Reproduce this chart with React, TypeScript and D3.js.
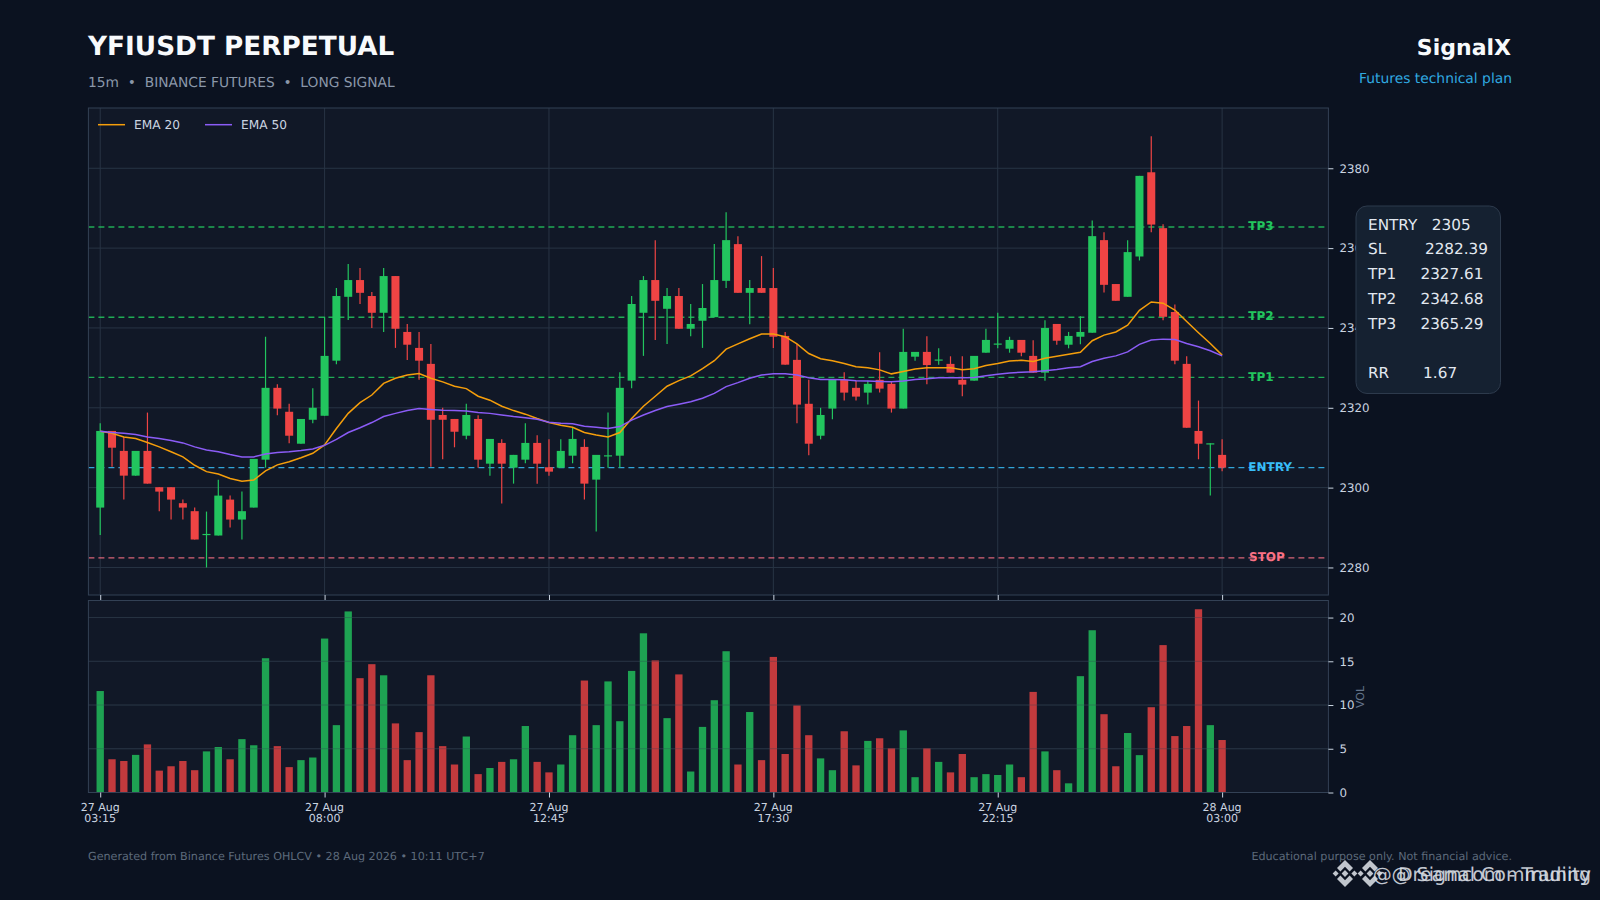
import { useEffect, useRef } from "react"
import * as d3 from "d3"

const opens = [2295,2314.2,2309.2,2303,2309.2,2300.1,2300.1,2296.1,2294.1,2288.1,2288,2297,2292,2295,2307,2325,2319,2311,2317,2318,2331.8,2347.8,2352,2348,2343.8,2353,2339,2335,2331,2318.2,2317.2,2313,2317.2,2306,2311.2,2305,2307,2311.2,2305.1,2305,2308,2310.2,2302,2307.9,2308,2326.8,2343.8,2352,2344.8,2348,2339.8,2341.8,2342.7,2351.8,2361,2348.8,2350,2350,2338,2332,2321,2313,2319.8,2327,2325,2323.8,2327,2326,2319.8,2332.8,2334,2331.9,2331,2327,2326.8,2333.8,2335.9,2334.8,2337,2333,2328.8,2341,2335.8,2337.8,2338.8,2362,2351,2347.8,2357.9,2379,2365,2344,2331,2314.2,2311,2308.2]
const highs = [2316.1,2314.2,2312.7,2309.2,2318.8,2300.1,2300.1,2297,2295,2294,2302,2298,2299,2307.2,2337.8,2325.9,2321,2317.2,2324.9,2342.8,2350,2356,2355,2349,2355,2353,2341,2339,2336,2320,2317.2,2321,2318.1,2312.2,2312.1,2308.2,2316.1,2313.1,2312.1,2312.1,2315.1,2312.1,2308.2,2318.8,2328.9,2348,2353,2362,2350,2350,2346,2351,2361,2369,2363,2352,2358,2355,2339,2336,2327,2320,2327,2328.9,2326.8,2326.8,2333.9,2326.5,2339.8,2334,2337.9,2334.9,2332.9,2332.9,2333,2339.8,2343.8,2337.8,2337,2336.9,2341.9,2341,2339,2342.9,2366.9,2364,2351,2362,2378.1,2388,2366,2345.9,2332.9,2321.8,2311.1,2312.1]
const lows = [2288.1,2305.2,2297,2303,2301,2294.1,2292,2292,2287,2280,2288,2290,2287,2295,2305,2318.1,2311.1,2311,2316.1,2318,2330.9,2342,2346,2340,2339,2335,2332,2327,2305.2,2307.1,2310.1,2312.1,2305,2303,2296,2301,2306.1,2301,2303,2305,2306.1,2297,2289,2305,2305,2324.9,2333,2337,2336,2339.8,2337.9,2335,2342.7,2350,2348.8,2340.9,2348.8,2335,2330.8,2316.1,2308.1,2312.1,2317.1,2321.8,2321.8,2320.8,2323.8,2318.8,2319.8,2331.8,2325.9,2330.8,2328.8,2322.9,2326.8,2333.8,2334.9,2333.8,2332.9,2328.8,2326.8,2335.8,2334.9,2335.9,2338.8,2348.9,2346.8,2347.8,2356.9,2364,2341.9,2330.9,2315,2307.1,2298,2304.1]
const closes = [2314.2,2310,2303,2309.2,2301,2299,2297,2295,2287,2288.4,2298,2292,2294.1,2307.2,2325,2319.8,2313,2317.2,2320,2333,2348,2352,2348.8,2343.8,2353,2339.8,2335.8,2331.8,2317,2317,2314,2318.2,2307,2312.2,2306,2308.2,2311.2,2306,2304,2309.2,2312.2,2301,2308.2,2308.1,2325,2346,2352,2346.8,2348,2339.8,2341,2345,2352,2362,2348.8,2350,2348.8,2337.8,2330.8,2320.8,2311,2318.2,2327,2323.8,2322.8,2326,2324.8,2319.8,2334,2334,2330.7,2332.1,2328.8,2325.8,2333,2337,2336.1,2337,2333.8,2328.8,2340,2336.8,2338,2339,2363,2350.8,2346.8,2359,2378.1,2365.9,2342.8,2331.8,2315,2311,2311.1,2305]
const volumes = [11.6,3.8,3.6,4.3,5.5,2.5,3.0,3.6,2.55,4.7,5.2,3.8,6.1,5.4,15.35,5.3,2.9,3.7,4.0,17.6,7.7,20.7,13.07,14.67,13.4,7.9,3.7,6.9,13.4,5.3,3.2,6.4,2.1,2.8,3.5,3.8,7.6,3.5,2.3,3.2,6.55,12.8,7.7,12.7,8.15,13.9,18.2,15.1,8.5,13.5,2.4,7.5,10.55,16.15,3.2,9.2,3.7,15.5,4.4,9.95,6.55,3.9,2.55,7.0,3.1,5.9,6.2,5.05,7.1,1.75,5.05,3.5,2.3,4.4,1.75,2.1,2.0,3.2,1.75,11.5,4.7,2.55,1.05,13.3,18.55,8.95,3.0,6.8,4.27,9.75,16.85,6.45,7.6,20.95,7.7,6.0]
const ema20 = [2314.1,2313.6,2312.7,2312.3,2311.3,2310.2,2309,2307.7,2305.6,2304,2303.4,2302.3,2301.6,2301.9,2304.2,2305.7,2306.5,2307.5,2308.6,2310.7,2314.8,2318.6,2321.3,2323.2,2326.1,2327.4,2328.2,2328.6,2327.4,2326.5,2325.4,2324.8,2322.9,2321.9,2320.4,2319.3,2318.4,2317.3,2316.3,2315.6,2315.1,2313.8,2313.2,2312.7,2313.8,2317.3,2320.4,2322.9,2325.4,2326.8,2328,2329.8,2331.8,2334.7,2336,2337.3,2338.5,2338.5,2337.8,2336,2333.6,2332.3,2331.8,2331.1,2330.3,2330,2329.5,2328.5,2329.1,2329.7,2330,2330,2330,2329.5,2329.8,2330.6,2331.1,2331.7,2331.9,2331.6,2332.4,2332.9,2333.4,2333.9,2336.8,2338.2,2339,2340.7,2344.4,2346.5,2346.2,2344.5,2341.6,2338.8,2336.1,2333.2]
const ema50 = [2314.1,2313.8,2313.6,2313.3,2312.7,2312.3,2311.8,2311.2,2310.2,2309.4,2309,2308.3,2307.7,2307.7,2308.4,2308.8,2309,2309.3,2309.7,2310.6,2312.1,2313.8,2315,2316.3,2317.8,2318.6,2319.3,2319.8,2319.6,2319.4,2319.3,2319.2,2318.8,2318.6,2318.2,2317.8,2317.5,2317.1,2316.4,2316.1,2316,2315.4,2315.1,2314.8,2315.3,2316.9,2318.2,2319.3,2320.3,2320.9,2321.5,2322.4,2323.6,2325.3,2326.3,2327.4,2328.2,2328.5,2328.5,2328.2,2327.5,2327.1,2327.1,2327,2326.8,2326.7,2326.6,2326.5,2326.7,2327.1,2327.3,2327.5,2327.5,2327.5,2327.6,2328,2328.4,2328.7,2328.9,2329,2329.3,2329.6,2330,2330.3,2331.6,2332.4,2333,2334,2335.9,2337,2337.2,2337.1,2336.1,2335.3,2334.3,2333]

const priceTicks = [2280, 2300, 2320, 2340, 2360, 2380]
const volTicks = [0, 5, 10, 15, 20]
const timeTicks = [0, 19, 38, 57, 76, 95]
const timeDates = ["27 Aug", "27 Aug", "27 Aug", "27 Aug", "27 Aug", "28 Aug"]
const timeHours = ["03:15", "08:00", "12:45", "17:30", "22:15", "03:00"]

const levelNames = ["TP3", "TP2", "TP1", "ENTRY", "STOP"]
const levelValues = [2365.29, 2342.68, 2327.61, 2305, 2282.39]
const levelColors = ["#22c55e", "#22c55e", "#22c55e", "#38bdf8", "#fb7185"]

const planLines = ["ENTRY   2305", "SL        2282.39", "TP1     2327.61", "TP2     2342.68", "TP3     2365.29", "", "RR       1.67"]

const BG = "#0b1220"
const PANEL = "#111827"
const GRID = "#283444"
const SPINE = "#334155"
const UP = "#22c55e"
const DOWN = "#ef4444"

export default function App() {
  const svgRef = useRef(null)

  useEffect(() => {
    const svg = d3.select(svgRef.current)
    svg.selectAll("*").remove()
    svg.attr("font-family", "DejaVu Sans").attr("text-rendering", "geometricPrecision")

    const left = 88.4
    const right = 1328.4
    const x = d3.scaleLinear().domain([-1, 104]).range([left, right])
    const y = d3.scaleLinear().domain([2273, 2395]).range([595.4, 108.4])
    const v = d3.scaleLinear().domain([0, 21.95]).range([792.5, 600.5])
    const step = x(1) - x(0)

    svg.append("rect").attr("width", 1600).attr("height", 900).attr("fill", BG)

    // plot backgrounds
    svg.append("rect").attr("x", left).attr("y", 108).attr("width", right - left).attr("height", 487).attr("fill", PANEL)
    svg.append("rect").attr("x", left).attr("y", 600.5).attr("width", right - left).attr("height", 192).attr("fill", PANEL)

    // grid
    svg.append("g").selectAll("line").data(priceTicks).enter().append("line")
      .attr("x1", left).attr("x2", right).attr("y1", (d) => y(d)).attr("y2", (d) => y(d))
      .attr("stroke", GRID).attr("stroke-width", 1)
    svg.append("g").selectAll("line").data(volTicks.slice(1)).enter().append("line")
      .attr("x1", left).attr("x2", right).attr("y1", (d) => v(d)).attr("y2", (d) => v(d))
      .attr("stroke", GRID).attr("stroke-width", 1)
    svg.append("g").selectAll("line").data(timeTicks).enter().append("line")
      .attr("x1", (d) => x(d)).attr("x2", (d) => x(d)).attr("y1", 108).attr("y2", 595)
      .attr("stroke", GRID).attr("stroke-width", 1)

    // level lines
    svg.append("g").selectAll("line").data(levelValues).enter().append("line")
      .attr("x1", left).attr("x2", right).attr("y1", (d) => y(d)).attr("y2", (d) => y(d))
      .attr("stroke", (_, i) => levelColors[i]).attr("stroke-width", 1.4)
      .attr("stroke-dasharray", "6 4").attr("opacity", 0.85)

    // candles
    const isUp = (i: number) => closes[i] >= opens[i]
    const idx = d3.range(opens.length)
    const candles = svg.append("g")
    candles.selectAll("line").data(idx).enter().append("line")
      .attr("x1", (i) => x(i)).attr("x2", (i) => x(i))
      .attr("y1", (i) => y(highs[i])).attr("y2", (i) => y(lows[i]))
      .attr("stroke", (i) => (isUp(i) ? UP : DOWN)).attr("stroke-width", 1.2)
    candles.selectAll("rect").data(idx).enter().append("rect")
      .attr("x", (i) => x(i) - step * 0.34).attr("width", step * 0.68)
      .attr("y", (i) => y(Math.max(opens[i], closes[i])))
      .attr("height", (i) => Math.max(1.2, Math.abs(y(opens[i]) - y(closes[i]))))
      .attr("fill", (i) => (isUp(i) ? UP : DOWN))

    // ema lines
    const line = d3.line<number>().x((_, i) => x(i)).y((d) => y(d))
    svg.append("path").attr("d", line(ema20)).attr("fill", "none").attr("stroke", "#f59e0b").attr("stroke-width", 1.5)
    svg.append("path").attr("d", line(ema50)).attr("fill", "none").attr("stroke", "#8b5cf6").attr("stroke-width", 1.5)

    // volume bars
    svg.append("g").selectAll("rect").data(idx).enter().append("rect")
      .attr("x", (i) => x(i) - step * 0.31).attr("width", step * 0.62)
      .attr("y", (i) => v(volumes[i])).attr("height", (i) => v(0) - v(volumes[i]))
      .attr("fill", (i) => (isUp(i) ? UP : DOWN)).attr("opacity", 0.8)

    // redraw volume grid faintly over bars like the reference
    svg.append("g").selectAll("line").data(volTicks.slice(1)).enter().append("line")
      .attr("x1", left).attr("x2", right).attr("y1", (d) => v(d)).attr("y2", (d) => v(d))
      .attr("stroke", GRID).attr("stroke-width", 1).attr("opacity", 0.35)

    // frames
    svg.append("rect").attr("x", left).attr("y", 108).attr("width", right - left).attr("height", 487)
      .attr("fill", "none").attr("stroke", SPINE)
    svg.append("rect").attr("x", left).attr("y", 600.5).attr("width", right - left).attr("height", 192)
      .attr("fill", "none").attr("stroke", SPINE)

    // level labels
    svg.append("g").selectAll("text").data(levelNames).enter().append("text")
      .attr("x", (d) => (d === "STOP" ? 1249 : 1248.3)).attr("y", (_, i) => y(levelValues[i]) + 3.2)
      .attr("fill", (_, i) => levelColors[i]).attr("font-size", 12).attr("font-weight", 700)
      .text((d) => d)

    // axes
    const yAxisG = svg.append("g").attr("transform", `translate(${right},0)`)
    yAxisG.call(d3.axisRight(y).tickValues(priceTicks).tickSize(5).tickPadding(6).tickFormat((d) => `${d}`))
    const volAxisG = svg.append("g").attr("transform", `translate(${right},0)`)
    volAxisG.call(d3.axisRight(v).tickValues(volTicks).tickSize(5).tickPadding(6).tickFormat((d) => `${d}`))
    const topAxisG = svg.append("g").attr("transform", "translate(0,595)")
    topAxisG.call(d3.axisBottom(x).tickValues(timeTicks).tickSize(5).tickFormat(() => ""))
    const botAxisG = svg.append("g").attr("transform", "translate(0,792.5)")
    botAxisG.call(d3.axisBottom(x).tickValues(timeTicks).tickSize(5).tickFormat(() => ""))
    ;[yAxisG, volAxisG, topAxisG, botAxisG].forEach((g) => {
      g.select(".domain").remove()
      g.selectAll("line").attr("stroke", "#cbd5e1")
      g.selectAll("text").attr("fill", "#cbd5e1").attr("font-size", 11.8).attr("font-family", "DejaVu Sans")
    })

    const timeLabels = svg.append("g").selectAll("text").data(timeTicks).enter().append("text")
      .attr("text-anchor", "middle").attr("fill", "#cbd5e1").attr("font-size", 11)
    timeLabels.append("tspan").attr("x", (d) => x(d)).attr("y", 811).text((_, i) => timeDates[i])
    timeLabels.append("tspan").attr("x", (d) => x(d)).attr("y", 822).text((_, i) => timeHours[i])

    svg.append("text").attr("transform", "translate(1364,697) rotate(-90)").attr("text-anchor", "middle")
      .attr("fill", "#64748b").attr("font-size", 11).text("VOL")

    // legend
    const legendX = [98, 205]
    const legendNames = ["EMA 20", "EMA 50"]
    const legendColors = ["#f59e0b", "#8b5cf6"]
    legendX.forEach((lx, i) => {
      svg.append("line").attr("x1", lx).attr("x2", lx + 27).attr("y1", 124.7).attr("y2", 124.7)
        .attr("stroke", legendColors[i]).attr("stroke-width", 1.5)
      svg.append("text").attr("x", lx + 36).attr("y", 129).attr("fill", "#cbd5e1").attr("font-size", 12.2).text(legendNames[i])
    })

    // headers
    svg.append("text").attr("x", 88).attr("y", 54.5).attr("fill", "#f8fafc").attr("font-size", 26.3).attr("font-weight", 700).text("YFIUSDT PERPETUAL")
    svg.append("text").attr("x", 88).attr("y", 86.5).attr("fill", "#8a97a9").attr("font-size", 13.8)
      .style("white-space", "pre").text("15m  •  BINANCE FUTURES  •  LONG SIGNAL")
    svg.append("text").attr("x", 1511).attr("y", 54.5).attr("text-anchor", "end").attr("fill", "#f8fafc").attr("font-size", 22).attr("font-weight", 700).text("SignalX")
    svg.append("text").attr("x", 1512).attr("y", 83).attr("text-anchor", "end").attr("fill", "#30a9e0").attr("font-size", 13.85).text("Futures technical plan")

    // plan box
    svg.append("rect").attr("x", 1356).attr("y", 206).attr("width", 144.5).attr("height", 187.5).attr("rx", 11)
      .attr("fill", "#152131").attr("stroke", "#2d3a4c").attr("stroke-width", 1)
    svg.append("g").selectAll("text").data(planLines).enter().append("text")
      .attr("x", 1368).attr("y", (_, i) => 229.5 + i * 24.75)
      .attr("fill", "#e2e8f0").attr("font-size", 15.25).style("white-space", "pre").text((d) => d)

    // footer
    svg.append("text").attr("x", 88).attr("y", 860).attr("fill", "#5d6a7b").attr("font-size", 11.15)
      .text("Generated from Binance Futures OHLCV • 28 Aug 2026 • 10:11 UTC+7")
    svg.append("text").attr("x", 1512).attr("y", 860).attr("text-anchor", "end").attr("fill", "#5d6a7b").attr("font-size", 11.15)
      .text("Educational purpose only. Not financial advice.")

    // watermark, two stamps almost on top of each other
    const stamps = [
      { logo: 1345, text: "@ Dreamcom - Trading" },
      { logo: 1370, text: "@ Signal Community" },
    ]
    stamps.forEach((s) => {
      const g = svg.append("g").attr("transform", `translate(${s.logo},873.5)`).attr("fill", "#d5dae0").attr("opacity", 0.9)
      g.append("path").attr("d", "M0,-13.5 L8,-5.5 L4.6,-2.1 L0,-6.7 L-4.6,-2.1 L-8,-5.5 Z")
      g.append("path").attr("d", "M0,13.5 L8,5.5 L4.6,2.1 L0,6.7 L-4.6,2.1 L-8,5.5 Z")
      g.append("path").attr("d", "M0,-3.4 L3.4,0 L0,3.4 L-3.4,0 Z")
      g.append("path").attr("d", "M-9.4,-3 L-6.4,0 L-9.4,3 L-12.4,0 Z")
      g.append("path").attr("d", "M9.4,-3 L12.4,0 L9.4,3 L6.4,0 Z")
      svg.append("text").attr("x", 1591).attr("y", 881).attr("text-anchor", "end").attr("fill", "#d5dae0")
        .attr("opacity", 0.9).attr("font-size", 19).text(s.text)
    })
  }, [])

  return <svg ref={svgRef} width={1600} height={900} style={{ position: "absolute", top: 0, left: 0, display: "block" }}></svg>
}
